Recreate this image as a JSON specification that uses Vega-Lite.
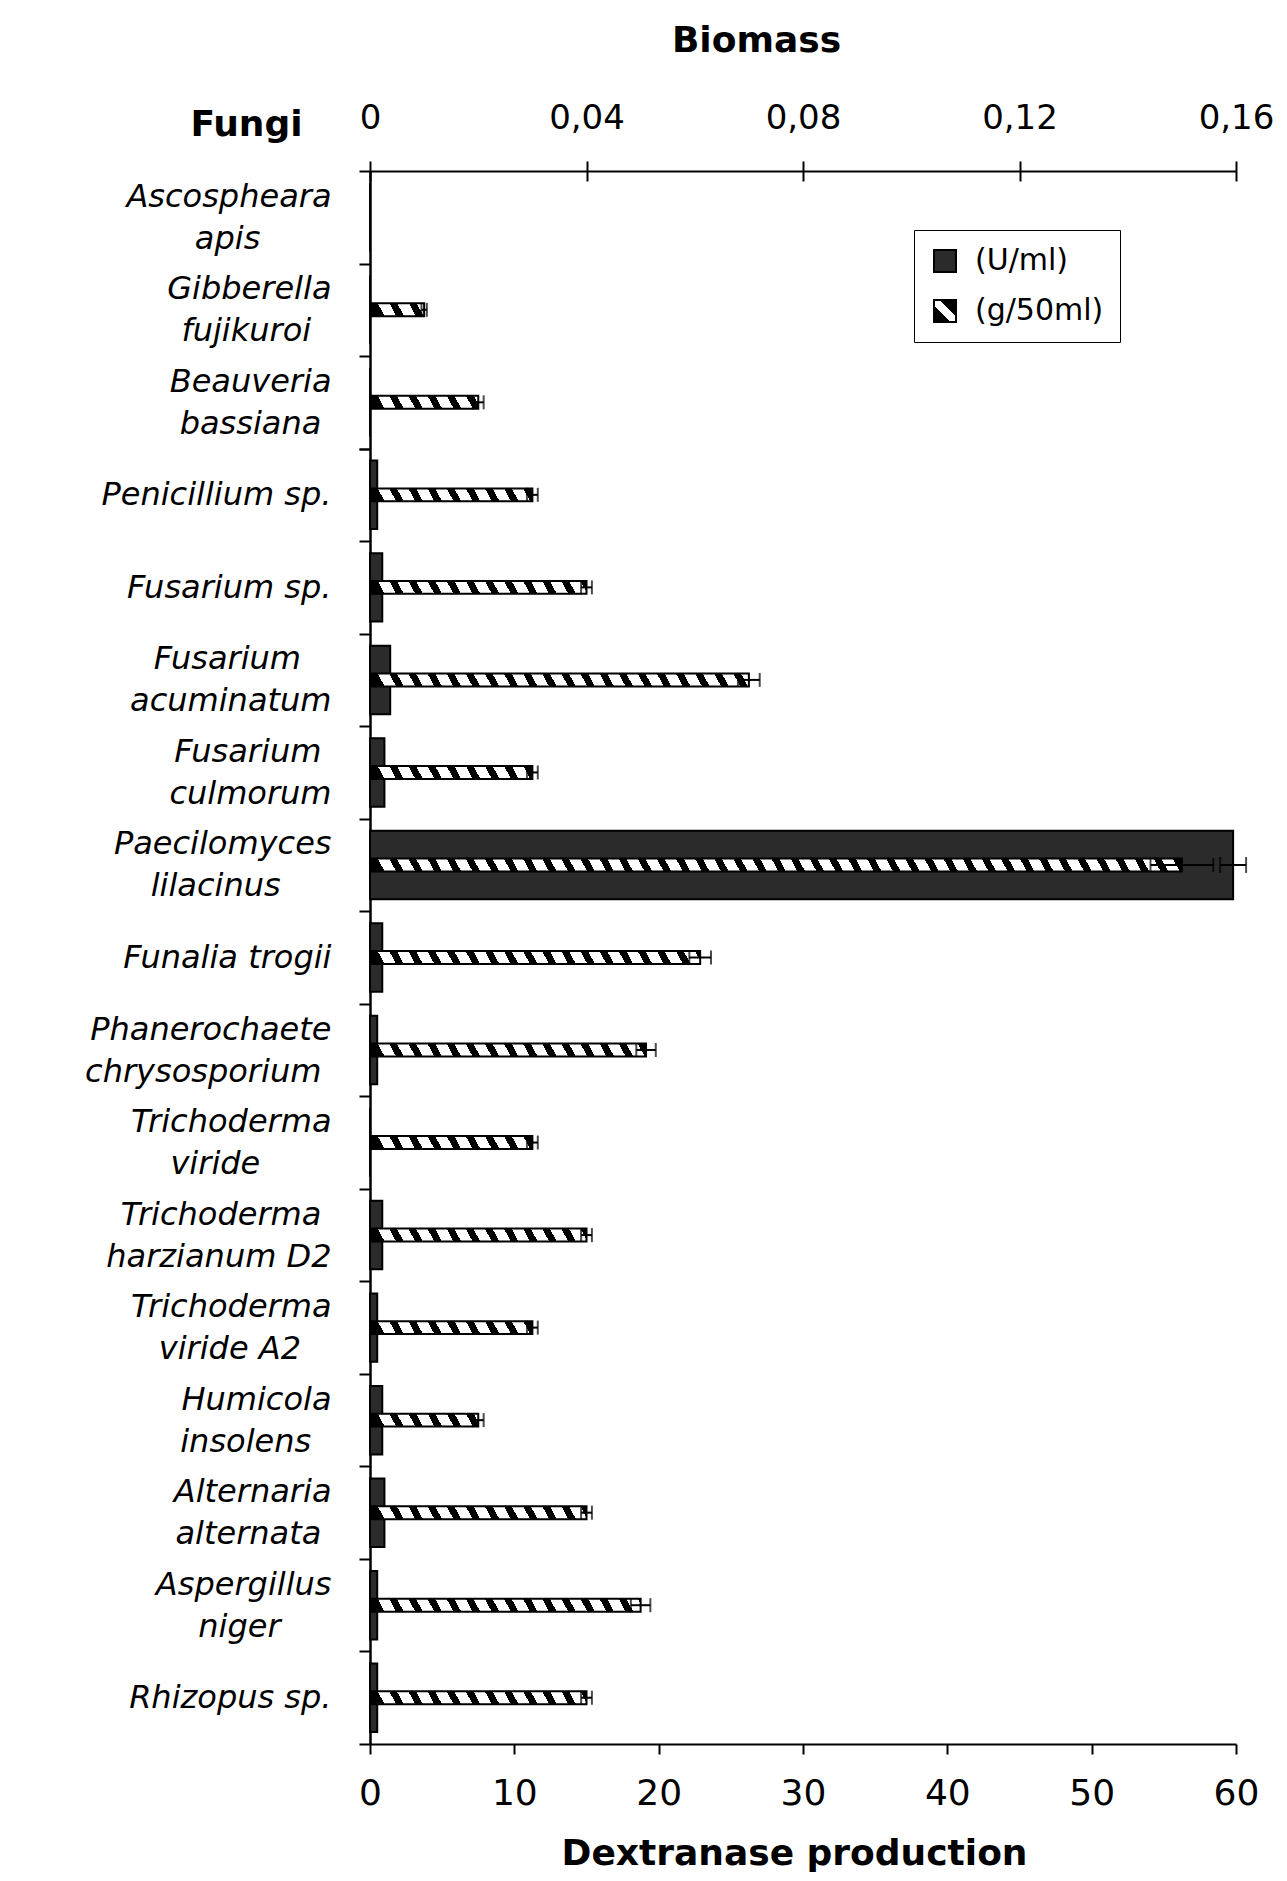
{
  "$schema": "https://vega.github.io/schema/vega-lite/v6.json",
  "width": 866,
  "height": 1573,
  "autosize": {"type": "none"},
  "padding": {"left": 370, "top": 171, "right": 51, "bottom": 137},
  "background": "white",
  "config": {
    "view": {"stroke": null},
    "font": "DejaVu Sans",
    "axis": {"grid": false, "domainColor": "black", "domainWidth": 2, "tickColor": "black", "tickWidth": 2, "labelColor": "black", "titleColor": "black"}
  },
  "params": [
    {"name": "hatch", "value": [
      {"offset":0,"color":"#000"},{"offset":0.008889,"color":"#000"},{"offset":0.008889,"color":"#fff"},{"offset":0.022222,"color":"#fff"},
      {"offset":0.022222,"color":"#000"},{"offset":0.031111,"color":"#000"},{"offset":0.031111,"color":"#fff"},{"offset":0.044444,"color":"#fff"},
      {"offset":0.044444,"color":"#000"},{"offset":0.053333,"color":"#000"},{"offset":0.053333,"color":"#fff"},{"offset":0.066667,"color":"#fff"},
      {"offset":0.066667,"color":"#000"},{"offset":0.075556,"color":"#000"},{"offset":0.075556,"color":"#fff"},{"offset":0.088889,"color":"#fff"},
      {"offset":0.088889,"color":"#000"},{"offset":0.097778,"color":"#000"},{"offset":0.097778,"color":"#fff"},{"offset":0.111111,"color":"#fff"},
      {"offset":0.111111,"color":"#000"},{"offset":0.12,"color":"#000"},{"offset":0.12,"color":"#fff"},{"offset":0.133333,"color":"#fff"},
      {"offset":0.133333,"color":"#000"},{"offset":0.142222,"color":"#000"},{"offset":0.142222,"color":"#fff"},{"offset":0.155556,"color":"#fff"},
      {"offset":0.155556,"color":"#000"},{"offset":0.164444,"color":"#000"},{"offset":0.164444,"color":"#fff"},{"offset":0.177778,"color":"#fff"},
      {"offset":0.177778,"color":"#000"},{"offset":0.186667,"color":"#000"},{"offset":0.186667,"color":"#fff"},{"offset":0.2,"color":"#fff"},
      {"offset":0.2,"color":"#000"},{"offset":0.208889,"color":"#000"},{"offset":0.208889,"color":"#fff"},{"offset":0.222222,"color":"#fff"},
      {"offset":0.222222,"color":"#000"},{"offset":0.231111,"color":"#000"},{"offset":0.231111,"color":"#fff"},{"offset":0.244444,"color":"#fff"},
      {"offset":0.244444,"color":"#000"},{"offset":0.253333,"color":"#000"},{"offset":0.253333,"color":"#fff"},{"offset":0.266667,"color":"#fff"},
      {"offset":0.266667,"color":"#000"},{"offset":0.275556,"color":"#000"},{"offset":0.275556,"color":"#fff"},{"offset":0.288889,"color":"#fff"},
      {"offset":0.288889,"color":"#000"},{"offset":0.297778,"color":"#000"},{"offset":0.297778,"color":"#fff"},{"offset":0.311111,"color":"#fff"},
      {"offset":0.311111,"color":"#000"},{"offset":0.32,"color":"#000"},{"offset":0.32,"color":"#fff"},{"offset":0.333333,"color":"#fff"},
      {"offset":0.333333,"color":"#000"},{"offset":0.342222,"color":"#000"},{"offset":0.342222,"color":"#fff"},{"offset":0.355556,"color":"#fff"},
      {"offset":0.355556,"color":"#000"},{"offset":0.364444,"color":"#000"},{"offset":0.364444,"color":"#fff"},{"offset":0.377778,"color":"#fff"},
      {"offset":0.377778,"color":"#000"},{"offset":0.386667,"color":"#000"},{"offset":0.386667,"color":"#fff"},{"offset":0.4,"color":"#fff"},
      {"offset":0.4,"color":"#000"},{"offset":0.408889,"color":"#000"},{"offset":0.408889,"color":"#fff"},{"offset":0.422222,"color":"#fff"},
      {"offset":0.422222,"color":"#000"},{"offset":0.431111,"color":"#000"},{"offset":0.431111,"color":"#fff"},{"offset":0.444444,"color":"#fff"},
      {"offset":0.444444,"color":"#000"},{"offset":0.453333,"color":"#000"},{"offset":0.453333,"color":"#fff"},{"offset":0.466667,"color":"#fff"},
      {"offset":0.466667,"color":"#000"},{"offset":0.475556,"color":"#000"},{"offset":0.475556,"color":"#fff"},{"offset":0.488889,"color":"#fff"},
      {"offset":0.488889,"color":"#000"},{"offset":0.497778,"color":"#000"},{"offset":0.497778,"color":"#fff"},{"offset":0.511111,"color":"#fff"},
      {"offset":0.511111,"color":"#000"},{"offset":0.52,"color":"#000"},{"offset":0.52,"color":"#fff"},{"offset":0.533333,"color":"#fff"},
      {"offset":0.533333,"color":"#000"},{"offset":0.542222,"color":"#000"},{"offset":0.542222,"color":"#fff"},{"offset":0.555556,"color":"#fff"},
      {"offset":0.555556,"color":"#000"},{"offset":0.564444,"color":"#000"},{"offset":0.564444,"color":"#fff"},{"offset":0.577778,"color":"#fff"},
      {"offset":0.577778,"color":"#000"},{"offset":0.586667,"color":"#000"},{"offset":0.586667,"color":"#fff"},{"offset":0.6,"color":"#fff"},
      {"offset":0.6,"color":"#000"},{"offset":0.608889,"color":"#000"},{"offset":0.608889,"color":"#fff"},{"offset":0.622222,"color":"#fff"},
      {"offset":0.622222,"color":"#000"},{"offset":0.631111,"color":"#000"},{"offset":0.631111,"color":"#fff"},{"offset":0.644444,"color":"#fff"},
      {"offset":0.644444,"color":"#000"},{"offset":0.653333,"color":"#000"},{"offset":0.653333,"color":"#fff"},{"offset":0.666667,"color":"#fff"},
      {"offset":0.666667,"color":"#000"},{"offset":0.675556,"color":"#000"},{"offset":0.675556,"color":"#fff"},{"offset":0.688889,"color":"#fff"},
      {"offset":0.688889,"color":"#000"},{"offset":0.697778,"color":"#000"},{"offset":0.697778,"color":"#fff"},{"offset":0.711111,"color":"#fff"},
      {"offset":0.711111,"color":"#000"},{"offset":0.72,"color":"#000"},{"offset":0.72,"color":"#fff"},{"offset":0.733333,"color":"#fff"},
      {"offset":0.733333,"color":"#000"},{"offset":0.742222,"color":"#000"},{"offset":0.742222,"color":"#fff"},{"offset":0.755556,"color":"#fff"},
      {"offset":0.755556,"color":"#000"},{"offset":0.764444,"color":"#000"},{"offset":0.764444,"color":"#fff"},{"offset":0.777778,"color":"#fff"},
      {"offset":0.777778,"color":"#000"},{"offset":0.786667,"color":"#000"},{"offset":0.786667,"color":"#fff"},{"offset":0.8,"color":"#fff"},
      {"offset":0.8,"color":"#000"},{"offset":0.808889,"color":"#000"},{"offset":0.808889,"color":"#fff"},{"offset":0.822222,"color":"#fff"},
      {"offset":0.822222,"color":"#000"},{"offset":0.831111,"color":"#000"},{"offset":0.831111,"color":"#fff"},{"offset":0.844444,"color":"#fff"},
      {"offset":0.844444,"color":"#000"},{"offset":0.853333,"color":"#000"},{"offset":0.853333,"color":"#fff"},{"offset":0.866667,"color":"#fff"},
      {"offset":0.866667,"color":"#000"},{"offset":0.875556,"color":"#000"},{"offset":0.875556,"color":"#fff"},{"offset":0.888889,"color":"#fff"},
      {"offset":0.888889,"color":"#000"},{"offset":0.897778,"color":"#000"},{"offset":0.897778,"color":"#fff"},{"offset":0.911111,"color":"#fff"},
      {"offset":0.911111,"color":"#000"},{"offset":0.92,"color":"#000"},{"offset":0.92,"color":"#fff"},{"offset":0.933333,"color":"#fff"},
      {"offset":0.933333,"color":"#000"},{"offset":0.942222,"color":"#000"},{"offset":0.942222,"color":"#fff"},{"offset":0.955556,"color":"#fff"},
      {"offset":0.955556,"color":"#000"},{"offset":0.964444,"color":"#000"},{"offset":0.964444,"color":"#fff"},{"offset":0.977778,"color":"#fff"},
      {"offset":0.977778,"color":"#000"},{"offset":0.986667,"color":"#000"},{"offset":0.986667,"color":"#fff"},{"offset":1,"color":"#fff"}
    ]},
    {"name": "lg", "value": {"gradient": "linear", "x1": 0, "y1": 1, "x2": 1, "y2": 0, "stops": [
      {"offset":0,"color":"#000"},{"offset":0.38,"color":"#000"},{"offset":0.38,"color":"#fff"},{"offset":0.62,"color":"#fff"},{"offset":0.62,"color":"#000"},{"offset":1,"color":"#000"}
    ]}}
  ],
  "data": {"values": [
    {"fungus": "Ascospheara apis", "dextranase": 0, "dErr": 0, "biomass": 0, "bErr": 0},
    {"fungus": "Gibberella fujikuroi", "dextranase": 0, "dErr": 0, "biomass": 0.01, "bErr": 0.0005},
    {"fungus": "Beauveria bassiana", "dextranase": 0, "dErr": 0, "biomass": 0.02, "bErr": 0.001},
    {"fungus": "Penicillium sp.", "dextranase": 0.5, "dErr": 0, "biomass": 0.03, "bErr": 0.001},
    {"fungus": "Fusarium sp.", "dextranase": 0.85, "dErr": 0, "biomass": 0.04, "bErr": 0.001},
    {"fungus": "Fusarium acuminatum", "dextranase": 1.4, "dErr": 0, "biomass": 0.07, "bErr": 0.002},
    {"fungus": "Fusarium culmorum", "dextranase": 1.0, "dErr": 0, "biomass": 0.03, "bErr": 0.001},
    {"fungus": "Paecilomyces lilacinus", "dextranase": 59.8, "dErr": 0.9, "biomass": 0.15, "bErr": 0.0058},
    {"fungus": "Funalia trogii", "dextranase": 0.85, "dErr": 0, "biomass": 0.061, "bErr": 0.002},
    {"fungus": "Phanerochaete chrysosporium", "dextranase": 0.5, "dErr": 0, "biomass": 0.051, "bErr": 0.0018},
    {"fungus": "Trichoderma viride", "dextranase": 0, "dErr": 0, "biomass": 0.03, "bErr": 0.001},
    {"fungus": "Trichoderma harzianum D2", "dextranase": 0.85, "dErr": 0, "biomass": 0.04, "bErr": 0.001},
    {"fungus": "Trichoderma viride A2", "dextranase": 0.5, "dErr": 0, "biomass": 0.03, "bErr": 0.001},
    {"fungus": "Humicola insolens", "dextranase": 0.85, "dErr": 0, "biomass": 0.02, "bErr": 0.001},
    {"fungus": "Alternaria alternata", "dextranase": 1.0, "dErr": 0, "biomass": 0.04, "bErr": 0.001},
    {"fungus": "Aspergillus niger", "dextranase": 0.5, "dErr": 0, "biomass": 0.05, "bErr": 0.0018},
    {"fungus": "Rhizopus sp.", "dextranase": 0.5, "dErr": 0, "biomass": 0.04, "bErr": 0.001}
  ]},
  "layer": [
    {
      "mark": {"type": "bar", "height": {"band": 0.74}, "stroke": "black", "strokeWidth": 2},
      "encoding": {
        "y": {
          "field": "fungus", "type": "nominal", "sort": null,
          "scale": {"paddingInner": 0, "paddingOuter": 0},
          "axis": {
            "orient": "left",
            "values": ["Ascospheara apis", "Gibberella fujikuroi", "Beauveria bassiana", "Fusarium acuminatum", "Fusarium culmorum", "Paecilomyces lilacinus", "Phanerochaete chrysosporium", "Trichoderma viride", "Trichoderma harzianum D2", "Trichoderma viride A2", "Humicola insolens", "Alternaria alternata", "Aspergillus niger"],
            "title": "Fungi", "titleAngle": 0, "titleX": -124, "titleY": -47, "titleAlign": "center", "titleBaseline": "middle",
            "titleFont": "DejaVu Sans", "titleFontSize": 36, "titleFontWeight": "bold",
            "labelFont": "DejaVu Sans", "labelFontStyle": "italic", "labelFontSize": 32, "labelLineHeight": 42,
            "labelAlign": "right", "labelBaseline": "middle", "labelOffset": -21, "labelLimit": 500, "labelPadding": 28,
            "tickBand": "extent", "tickSize": 11,
            "labelExpr": "({'Ascospheara apis': ['Ascospheara', 'apis\u00a0\u00a0\u00a0\u00a0\u00a0\u00a0\u00a0\u200b'], 'Gibberella fujikuroi': ['Gibberella', 'fujikuroi\u00a0\u00a0\u200b'], 'Beauveria bassiana': ['Beauveria', 'bassiana\u00a0\u200b'], 'Fusarium acuminatum': ['Fusarium\u00a0\u00a0\u00a0\u200b', 'acuminatum'], 'Fusarium culmorum': ['Fusarium\u00a0\u200b', 'culmorum'], 'Paecilomyces lilacinus': ['Paecilomyces', 'lilacinus\u00a0\u00a0\u00a0\u00a0\u00a0\u200b'], 'Phanerochaete chrysosporium': ['Phanerochaete', 'chrysosporium\u00a0\u200b'], 'Trichoderma viride': ['Trichoderma', 'viride\u00a0\u00a0\u00a0\u00a0\u00a0\u00a0\u00a0\u200b'], 'Trichoderma harzianum D2': ['Trichoderma\u00a0\u200b', 'harzianum D2'], 'Trichoderma viride A2': ['Trichoderma', 'viride A2\u00a0\u00a0\u00a0\u200b'], 'Humicola insolens': ['Humicola', 'insolens\u00a0\u00a0\u200b'], 'Alternaria alternata': ['Alternaria', 'alternata\u00a0\u200b'], 'Aspergillus niger': ['Aspergillus', 'niger\u00a0\u00a0\u00a0\u00a0\u00a0\u200b']})[datum.value] || datum.value"
          }
        },
        "x": {
          "field": "dextranase", "type": "quantitative",
          "scale": {"domain": [0, 60], "nice": false},
          "axis": {
            "orient": "bottom", "values": [0, 10, 20, 30, 40, 50, 60], "tickSize": 10,
            "labelPadding": 22, "labelFontSize": 36, "labelFont": "DejaVu Sans", "labelFlush": false, "labelOverlap": false,
            "title": "Dextranase production", "titleFont": "DejaVu Sans", "titleFontSize": 36, "titleFontWeight": "bold",
            "titleX": 424, "titleY": 109, "titleAlign": "center", "titleBaseline": "middle"
          }
        },
        "fill": {
          "datum": "(U/ml)", "type": "nominal",
          "scale": {"domain": ["(U/ml)", "(g/50ml)"], "range": ["#2b2b2b", {"expr": "lg"}]},
          "legend": {
            "orient": "none", "legendX": 544, "legendY": 59, "title": null,
            "symbolType": "square", "symbolSize": 484, "symbolStrokeColor": "black", "symbolStrokeWidth": 2,
            "labelFont": "DejaVu Sans", "labelFontSize": 30, "labelColor": "black", "labelOffset": 15,
            "rowPadding": 20, "padding": 16, "strokeColor": "black"
          }
        }
      }
    },
    {
      "mark": {
        "type": "bar", "height": {"band": 0.14}, "stroke": "black", "strokeWidth": 2,
        "fill": {"expr": "{gradient: 'linear', x1: 0, y1: 0, x2: 860 / max(2, datum.biomass * 5412.5), y2: -6020 / pow(max(2, datum.biomass * 5412.5), 2), stops: hatch}"}
      },
      "encoding": {
        "y": {
          "field": "fungus", "type": "nominal", "sort": null,
          "scale": {"paddingInner": 0, "paddingOuter": 0},
          "axis": {
            "orient": "left",
            "values": ["Penicillium sp.", "Fusarium sp.", "Funalia trogii", "Rhizopus sp."],
            "title": null,
            "labelFont": "DejaVu Sans", "labelFontStyle": "italic", "labelFontSize": 32,
            "labelAlign": "right", "labelBaseline": "middle", "labelLimit": 500, "labelPadding": 28,
            "tickBand": "extent", "tickSize": 11
          }
        },
        "x": {
          "field": "biomass", "type": "quantitative",
          "scale": {"domain": [0, 0.16], "nice": false},
          "axis": {
            "orient": "top", "values": [0, 0.04, 0.08, 0.12, 0.16], "tickSize": 10,
            "labelExpr": "datum.value == 0 ? '0' : replace(format(datum.value, '.2f'), '.', ',')",
            "labelPadding": 26, "labelFontSize": 34, "labelFont": "DejaVu Sans", "labelFlush": false, "labelOverlap": false,
            "title": "Biomass", "titleFont": "DejaVu Sans", "titleFontSize": 36, "titleFontWeight": "bold",
            "titleX": 386, "titleY": -131, "titleAlign": "center", "titleBaseline": "middle"
          }
        }
      }
    },
    {
      "transform": [{"filter": "datum.dErr > 0"}],
      "mark": {"type": "errorbar", "ticks": true, "color": "black", "thickness": 2, "size": 16},
      "encoding": {
        "y": {"field": "fungus", "type": "nominal", "sort": null, "axis": null},
        "x": {"field": "dextranase", "type": "quantitative", "scale": {"domain": [0, 60], "nice": false}, "axis": null},
        "xError": {"field": "dErr"}
      }
    },
    {
      "transform": [{"filter": "datum.bErr > 0"}],
      "mark": {"type": "errorbar", "ticks": true, "color": "black", "thickness": 2, "size": 14},
      "encoding": {
        "y": {"field": "fungus", "type": "nominal", "sort": null, "axis": null},
        "x": {
          "field": "biomass", "type": "quantitative", "scale": {"domain": [0, 0.16], "nice": false},
          "axis": {"orient": "top", "values": [0, 0.04, 0.08, 0.12, 0.16], "tickSize": -10, "labels": false, "domain": false, "title": null}
        },
        "xError": {"field": "bErr"}
      }
    }
  ],
  "resolve": {"scale": {"x": "independent"}, "axis": {"x": "independent", "y": "independent"}}
}
